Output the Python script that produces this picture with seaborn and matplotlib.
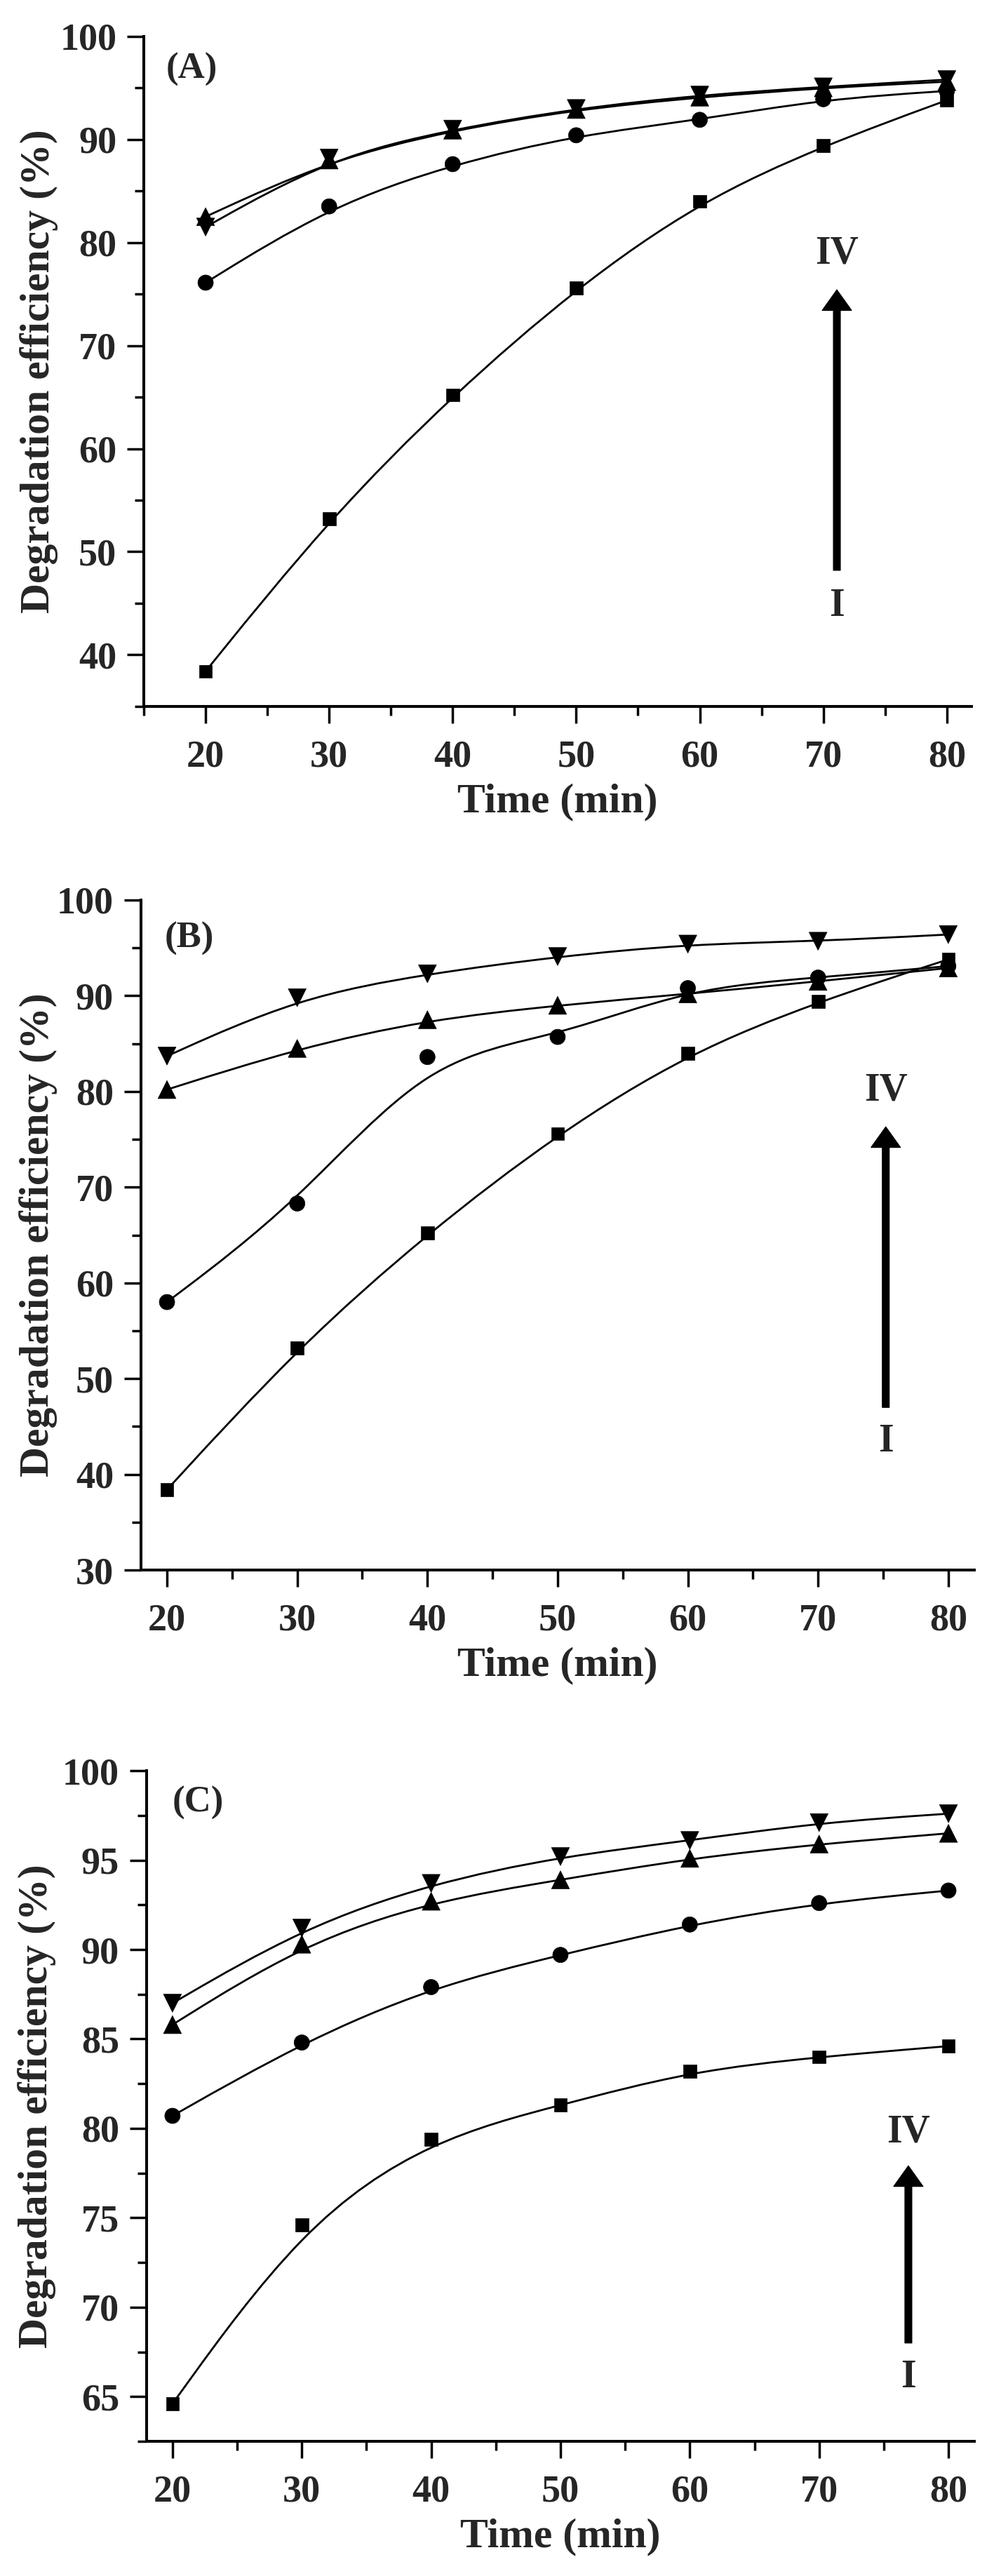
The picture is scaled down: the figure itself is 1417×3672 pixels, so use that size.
import matplotlib
matplotlib.use("Agg")
import matplotlib.pyplot as plt
import seaborn as sns
import pandas as pd
import numpy as np
from matplotlib.path import Path
from matplotlib.patches import PathPatch
from matplotlib.ticker import MultipleLocator

sns.set_style("ticks")
plt.rcParams['font.family'] = ['Liberation Serif', 'DejaVu Serif']
plt.rcParams['font.weight'] = 'bold'
plt.rcParams['axes.labelweight'] = 'bold'

# data
times = [20, 30, 40, 50, 60, 70, 80]
series = ["I", "II", "III", "IV"]

a_I = [38.4, 53.2, 65.2, 75.6, 84.0, 89.4, 93.8]
a_II = [76.1, 83.5, 87.6, 90.4, 91.9, 93.9, 94.7]
a_III = [82.5, 88.0, 90.9, 92.9, 94.1, 95.0, 95.6]
a_IV = [81.5, 88.2, 91.0, 93.0, 94.3, 95.1, 95.8]

b_I = [38.4, 53.2, 65.2, 75.6, 84.0, 89.4, 93.8]
b_II = [58.0, 68.3, 83.6, 85.7, 90.8, 91.9, 93.1]
b_III = [80.2, 84.5, 87.5, 89.0, 90.2, 91.5, 92.9]
b_IV = [83.7, 89.8, 92.3, 94.1, 95.4, 95.7, 96.4]

c_I = [64.6, 74.6, 79.4, 81.3, 83.2, 84.0, 84.6]
c_II = [80.7, 84.8, 87.9, 89.7, 91.4, 92.6, 93.3]
c_III = [85.8, 90.3, 92.7, 93.9, 95.1, 95.9, 96.5]
c_IV = [87.0, 91.2, 93.7, 95.2, 96.1, 97.1, 97.6]

marker_map = {"I": "s", "II": "o", "III": "^", "IV": "v"}
size_map = {"I": 180, "II": 250, "III": 340, "IV": 340}

panels = [
    dict(tag="(A)", data=[a_I, a_II, a_III, a_IV], rect=[0.1447, 0.7258, 0.8327, 0.2601],
         xlim=(15, 82), ylim=(35, 100), ymaj=10, ymin=5, tagpos=(18.9, 96.8),
         arrow=(71.1, 48.2, 75.4), iv=78.9, i=44.7, ylx=-0.127),
    dict(tag="(B)", data=[b_I, b_II, b_III, b_IV], rect=[0.1418, 0.3905, 0.8384, 0.2601],
         xlim=(18, 82), ylim=(30, 100), ymaj=10, ymin=5, tagpos=(21.7, 96.0),
         arrow=(75.2, 47.0, 76.3), iv=80.1, i=43.4, ylx=-0.123),
    dict(tag="(C)", data=[c_I, c_II, c_III, c_IV], rect=[0.1475, 0.0523, 0.8327, 0.2603],
         xlim=(18, 82), ylim=(62.5, 100), ymaj=5, ymin=2.5, tagpos=(22.0, 98.2),
         arrow=(76.9, 68.0, 77.9), iv=79.8, i=66.05, ylx=-0.133),
]


def bspline_path(x, y):
    # clamped uniform cubic B-spline using the measured points as control points
    # (same look as Origin's "B-Spline" connect), written as bezier segments
    pts = np.column_stack([x, y]).astype(float)
    q = np.vstack([pts[:1], pts[:1], pts, pts[-1:], pts[-1:]])
    verts, codes = [], []
    for k in range(len(q) - 3):
        p0, p1, p2, p3 = q[k], q[k + 1], q[k + 2], q[k + 3]
        start = (p0 + 4 * p1 + p2) / 6
        if k == 0:
            verts.append(start)
            codes.append(Path.MOVETO)
        verts += [(2 * p1 + p2) / 3, (p1 + 2 * p2) / 3, (p1 + 4 * p2 + p3) / 6]
        codes += [Path.CURVE4] * 3
    return Path(verts, codes)


fig = plt.figure(figsize=(14.17, 36.72), dpi=100)

for p in panels:
    ax = fig.add_axes(p["rect"])
    rows = []
    for name, vals in zip(series, p["data"]):
        for t, v in zip(times, vals):
            rows.append({"Time": t, "Eff": v, "Series": name})
    df = pd.DataFrame(rows)

    for name, vals in zip(series, p["data"]):
        ax.add_patch(PathPatch(bspline_path(times, vals), fill=False, lw=2.0,
                               edgecolor="black", zorder=2))

    sns.scatterplot(data=df, x="Time", y="Eff", style="Series", size="Series",
                    markers=marker_map, sizes=size_map, color="black",
                    edgecolor="black", linewidth=0.5, legend=False, zorder=3, ax=ax)

    ax.set_xlim(*p["xlim"])
    ax.set_ylim(*p["ylim"])
    ax.xaxis.set_major_locator(MultipleLocator(10))
    ax.xaxis.set_minor_locator(MultipleLocator(5))
    ax.yaxis.set_major_locator(MultipleLocator(p["ymaj"]))
    ax.yaxis.set_minor_locator(MultipleLocator(p["ymin"]))

    sns.despine(ax=ax)
    for s in ["left", "bottom"]:
        ax.spines[s].set_linewidth(2.9)
        ax.spines[s].set_color("black")
    ax.tick_params(which="major", length=17, width=2.5, color="black", labelsize=39)
    ax.tick_params(which="minor", length=9.5, width=2.5, color="black")
    ax.tick_params(axis="x", which="major", pad=17)
    ax.tick_params(axis="y", which="major", pad=11)

    ax.set_xlabel("Time (min)", fontsize=43, fontweight="bold", va="center")
    ax.set_ylabel("Degradation efficiency (%)", fontsize=43, fontweight="bold", va="center")
    ax.xaxis.set_label_coords(0.5, -0.143)
    ax.yaxis.set_label_coords(p["ylx"], 0.5)

    ax.text(*p["tagpos"], p["tag"], fontsize=38, fontweight="bold", ha="center", va="center")

    ax_x, tail, tip = p["arrow"]
    ax.annotate("", xy=(ax_x, tip), xytext=(ax_x, tail),
                arrowprops=dict(facecolor="black", edgecolor="black", width=7,
                                headwidth=30, headlength=21, shrink=0))
    ax.text(ax_x, p["iv"], "IV", fontsize=40, fontweight="bold", ha="center", va="center")
    ax.text(ax_x, p["i"], "I", fontsize=40, fontweight="bold", ha="center", va="center")

fig.savefig("out.png", dpi=100)
